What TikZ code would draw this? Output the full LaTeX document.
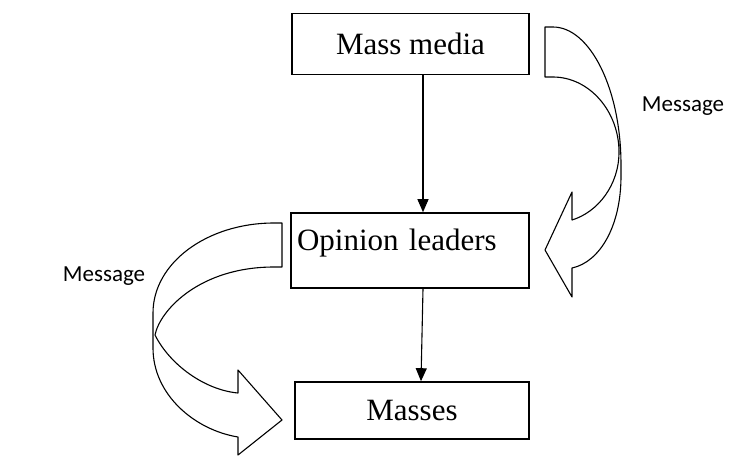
\documentclass[tikz,border=0pt]{standalone}
\usepackage{fontspec}
\setmainfont{Liberation Serif}
\newfontfamily\msgfont{Carlito}
\usetikzlibrary{arrows.meta}
\tikzset{
  box/.style={draw, line width=1.6pt, minimum width=237pt,
    font=\fontsize{31}{36}\selectfont},
  flow/.style={-{Triangle[length=13pt,width=11pt]}, line width=1.1pt},
  curvearrow/.style={draw, line width=1.1pt, line join=round},
  msg/.style={font=\msgfont\fontsize{23}{27}\selectfont, inner sep=0pt}
}

\begin{document}
\begin{tikzpicture}[x=1pt,y=-1pt]
    \useasboundingbox (0,0) rectangle (745,456);

    % boxes
    \node[box, minimum height=61pt] (media) at (410.5,44) {Mass media};
    \node[box, minimum width=238pt, minimum height=75pt, inner xsep=6pt,
          text width=226pt, align=left, text depth=22pt] (leaders) at (410,250.5) {Opinion leaders};
    \node[box, minimum width=234pt, minimum height=57pt] (masses) at (412,410.5) {Masses};

    % straight arrows
    \draw[flow] ([xshift=12.5pt]media.south) -- ([xshift=13pt]leaders.north);
    \draw[flow] ([xshift=13pt]leaders.south) -- ([xshift=9pt]masses.north);

    % right curved arrow
    \path (545,27) coordinate (R1)
      (621,165) coordinate (R2)
      (621,176) coordinate (R3)
      (572,268) coordinate (R4)
      (572,297) coordinate (R5)
      (545,250) coordinate (R6)
      (572,192) coordinate (R7)
      (572,220) coordinate (R8)
      (619,152) coordinate (R9)
      (545,77) coordinate (R10);
    \draw[curvearrow] (R1) -- ++(8,0) .. controls +(37,0) and +(0,-76) .. (R2) -- (R3)
      .. controls +(0,50) and +(28,-6) .. (R4) -- (R5) -- (R6) -- (R7) -- (R8)
      .. controls +(26,-8) and +(0,33) .. (R9)
      .. controls +(0,-41) and +(36,0) .. ([xshift=8pt]R10) -- (R10) -- cycle;
    \node[msg, anchor=base] (msgR) at (683,111) {Message};

    % left curved arrow
    \path (282,223) coordinate (L1)
      (153,313) coordinate (L2)
      (153,348) coordinate (L3)
      (238,437) coordinate (L4)
      (238,455) coordinate (L5)
      (282,420) coordinate (L6)
      (238,370) coordinate (L7)
      (238,393) coordinate (L8)
      (155,335) coordinate (L9)
      (282,267) coordinate (L10);
    \draw[curvearrow] (L1) -- ++(-8,0) .. controls +(-67,0) and +(0,-50) .. (L2) -- (L3)
      .. controls +(0,47) and +(-43,-7) .. (L4) -- (L5) -- (L6) -- (L7) -- (L8)
      .. controls +(-33,-3) and +(15,30) .. (L9)
      .. controls +(5,-25) and +(-74,0) .. ([xshift=-8pt]L10) -- (L10) -- cycle;
    \node[msg, anchor=base] (msgL) at (104,281) {Message};
\end{tikzpicture}
\end{document}
